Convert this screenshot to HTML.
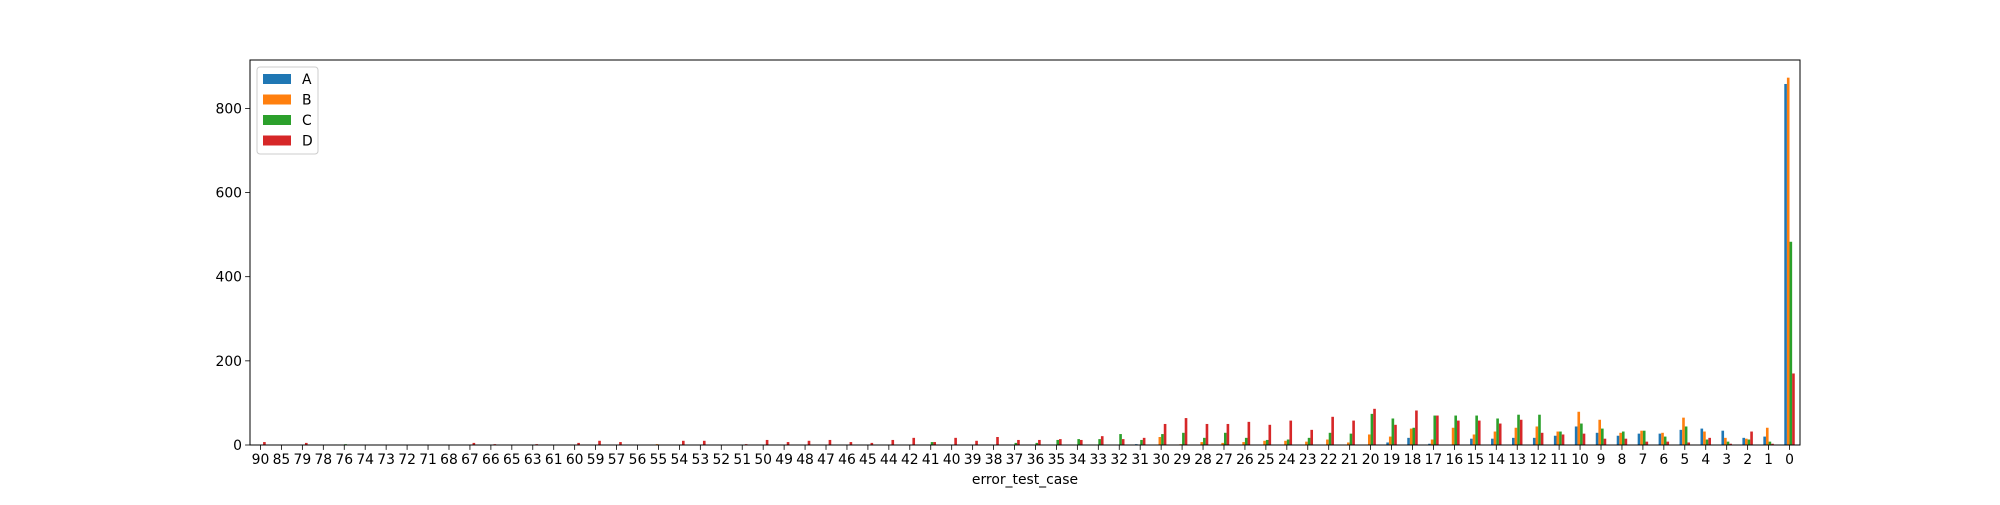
<!DOCTYPE html>
<html><head><meta charset="utf-8"><style>
body{margin:0;background:#fff}
svg text{font-family:"DejaVu Sans","Liberation Sans",sans-serif;font-size:13.9px;fill:#000}
</style></head><body>
<svg id="chart" width="2000" height="500" xmlns="http://www.w3.org/2000/svg"></svg>
<script>
const categories=["90","85","79","78","76","74","73","72","71","68","67","66","65","63","61","60","59","57","56","55","54","53","52","51","50","49","48","47","46","45","44","42","41","40","39","38","37","36","35","34","33","32","31","30","29","28","27","26","25","24","23","22","21","20","19","18","17","16","15","14","13","12","11","10","9","8","7","6","5","4","3","2","1","0"];
const seriesA=[0,0,0,0,0,0,0,0,0,0,0,0,0,0,0,0,0,0,0,0,0,0,0,0,0,0,0,0,0,0,0,0,0,0,0,0,0,0,0,0,0,0,2,0,0,0,0,0,0,0,0,0,0,0,6,17,3,0,15,15,17,17,22,44,29,22,27,27,36,39,34,17,20,858];
const seriesB=[0,0,0,0,0,0,0,0,0,0,0,0,0,0,0,0,0,0,0,2,0,0,0,0,0,0,0,0,0,0,0,0,0,0,0,0,0,0,0,0,0,0,0,19,2,7,5,7,10,10,8,13,6,25,20,39,13,41,25,32,41,44,32,79,60,29,34,29,65,32,17,15,41,873];
const seriesC=[0,0,0,0,2,0,0,0,0,0,0,0,0,0,0,0,0,0,0,0,0,0,0,0,0,0,0,0,0,0,0,0,7,0,0,0,5,5,12,14,14,26,12,26,29,17,29,17,12,13,17,29,27,74,63,41,70,70,70,63,72,72,32,51,39,32,34,20,44,13,8,13,8,483];
const seriesD=[7,0,5,0,0,0,0,0,0,0,5,2,0,2,0,5,10,7,0,0,10,10,0,2,12,7,10,12,7,5,12,17,7,17,10,19,12,12,14,12,21,14,17,50,64,50,50,55,48,58,36,67,58,86,48,82,70,58,58,51,60,29,25,27,15,15,8,8,6,17,3,32,3,170];
const yTicks=[0,200,400,600,800];
const seriesNames=["A","B","C","D"];
const colors=["#1f77b4","#ff7f0e","#2ca02c","#d62728"];
const L=250,R=1800,T=60,B=445,YMAX=915;
const svg=document.getElementById('chart');
const NS="http://www.w3.org/2000/svg";
function xScale(i){return L+(i+0.5)*(R-L)/categories.length;}
function yScale(v){return B-v*(B-T)/YMAX;}
function mk(tag,attrs){const e=document.createElementNS(NS,tag);for(const k in attrs)e.setAttribute(k,attrs[k]);svg.appendChild(e);return e;}
const step=(R-L)/categories.length,bw=step*0.125;
const all=[seriesA,seriesB,seriesC,seriesD];
all.forEach((s,si)=>{s.forEach((v,i)=>{
 const cx=xScale(i)+(si-1.5)*bw;
 const r=mk('rect',{x:cx-bw/2,y:yScale(v),width:bw,height:B-yScale(v),fill:colors[si]});
 
 
});});
const frame=mk('rect',{x:L,y:T,width:R-L,height:B-T,fill:'none',stroke:'#000','stroke-width':1});


categories.forEach((c,i)=>{
 const x=xScale(i);
 const t=mk('line',{x1:x,x2:x,y1:B,y2:B+4.9,stroke:'#000','stroke-width':0.8});
 
 
 const tx=mk('text',{x:x,y:B+19,'text-anchor':'middle'});tx.textContent=c;
 
 
});
yTicks.forEach(v=>{
 const y=yScale(v);
 const t=mk('line',{x1:L-4.9,x2:L,y1:y,y2:y,stroke:'#000','stroke-width':0.8});
 
 
 const tx=mk('text',{x:L-8,y:y+5,'text-anchor':'end'});tx.textContent=v;
 
 
});
const xl=mk('text',{x:(L+R)/2,y:B+39,'text-anchor':'middle'});xl.textContent='error_test_case';


const lg=mk('rect',{x:257,y:67,width:61,height:87,fill:'#fff',stroke:'#ccc',rx:3});


seriesNames.forEach((n,si)=>{
 const y=78+si*20.5;
 const sw=mk('rect',{x:263,y:y-4,width:28,height:10,fill:colors[si]});
 
 
 const tx=mk('text',{x:302,y:y+6});tx.textContent=n;
 
 
});
</script>
</body></html>
